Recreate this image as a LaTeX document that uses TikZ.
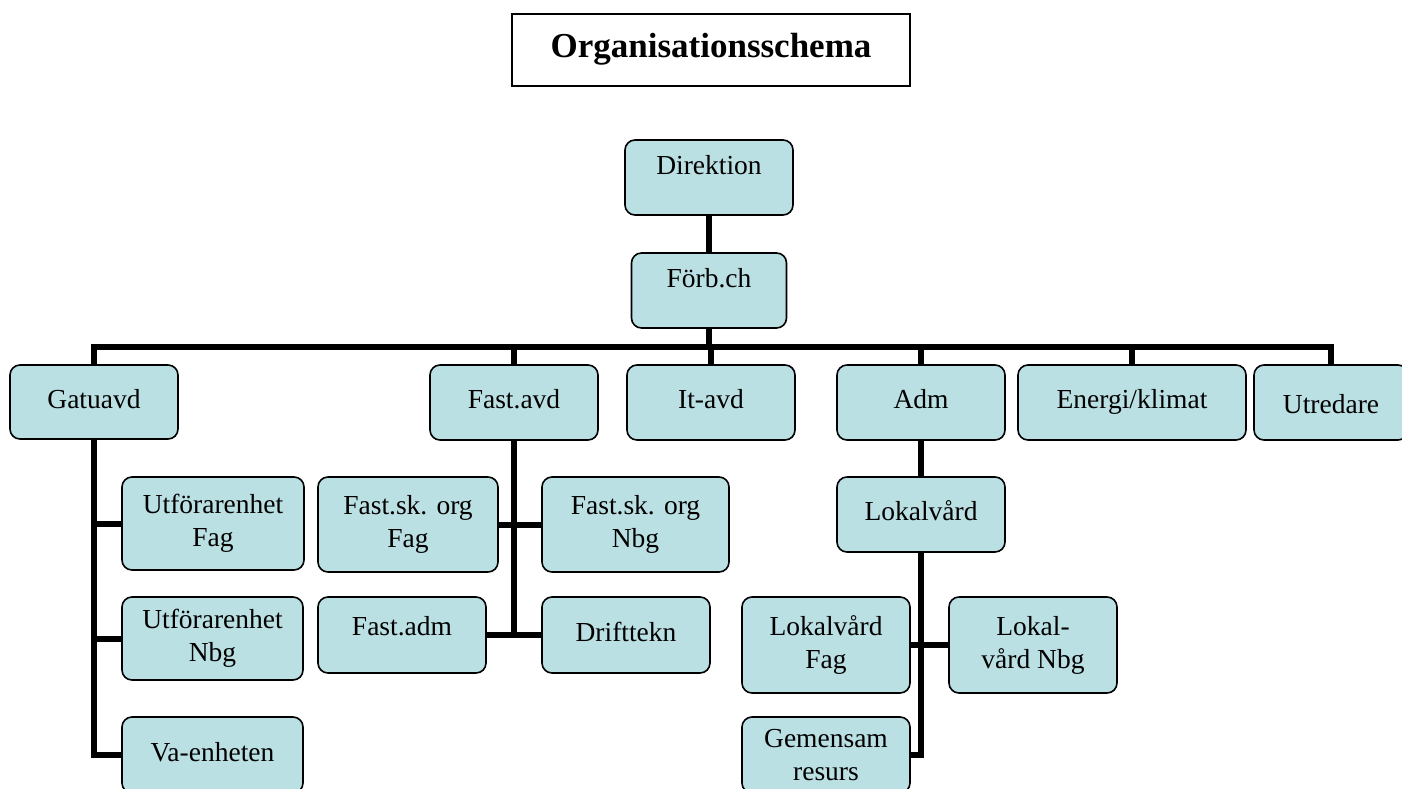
\documentclass[tikz,border=0pt]{standalone}
\usepackage{fontspec}
\setmainfont{Liberation Serif}
\usetikzlibrary{backgrounds}
\definecolor{boxfill}{RGB}{187,224,227}
\tikzset{
  box/.style={draw=black, line width=1.6pt, fill=boxfill, rounded corners=10pt,
    inner sep=2pt, font=\fontsize{27.5}{33}\selectfont, text height=18pt, text depth=6pt},
  hightext/.style={text height=10pt, text depth=17pt},
  twoline/.style={draw=black, line width=1.6pt, fill=boxfill, rounded corners=10pt,
    inner sep=2pt, font=\fontsize{27.5}{33}\selectfont, align=center},
  conn/.style={line width=6pt, line cap=rect, line join=miter, draw=black},
  titlebox/.style={draw=black, line width=2pt, fill=white, inner sep=0pt,
    font=\fontsize{35}{40}\selectfont\bfseries, text height=24pt, text depth=8pt}
}
\begin{document}
\begin{tikzpicture}[x=1pt,y=-1pt]
\useasboundingbox (0,0) rectangle (1402,789);
\node[titlebox, minimum width=398pt, minimum height=72pt] (title) at (711,50) {Organisationsschema};

\node[box, hightext, minimum width=168pt, minimum height=75pt] (dir) at (709,177.5) {Direktion};
\node[box, hightext, minimum width=155pt, minimum height=75pt] (forb) at (709,290.5) {Förb.ch};

\node[box, minimum width=168pt, minimum height=74pt] (gatu) at (94,402) {Gatuavd};
\node[box, minimum width=168pt, minimum height=75pt] (fastavd) at (514,402.5) {Fast.avd};
\node[box, minimum width=168pt, minimum height=75pt] (itavd) at (711,402.5) {It-avd};
\node[box, minimum width=168pt, minimum height=75pt] (adm) at (921,402.5) {Adm};
\node[box, minimum width=228pt, minimum height=75pt] (energi) at (1132,402.5) {Energi/klimat};
\node[box, text height=24pt, text depth=3pt, minimum width=154pt, minimum height=75pt] (utred) at (1331,402.5) {Utredare};

\node[twoline, minimum width=182pt, minimum height=93pt] (utfag) at (213,523.5) {Utförarenhet\\Fag};
\node[twoline, minimum width=181pt, minimum height=83pt] (utnbg) at (212.5,638.5) {Utförarenhet\\Nbg};
\node[box, minimum width=181pt, minimum height=76pt] (vaenh) at (212.5,755) {Va-enheten};

\node[twoline, minimum width=180pt, minimum height=95pt] (fsfag) at (408,524.5) {Fast.sk. org\\Fag};
\node[twoline, minimum width=187pt, minimum height=95pt] (fsnbg) at (635.5,524.5) {Fast.sk. org\\Nbg};
\node[box, text height=12pt, text depth=12pt, minimum width=168pt, minimum height=76pt] (fastadm) at (402,635) {Fast.adm};
\node[box, minimum width=168pt, minimum height=76pt] (drift) at (626,635) {Drifttekn};

\node[box, minimum width=168pt, minimum height=75pt] (lokal) at (921,514.5) {Lokalvård};
\node[twoline, minimum width=168pt, minimum height=96pt] (lfag) at (826,645) {\raisebox{-4pt}{Lokalvård}\\\raisebox{-4pt}{Fag}};
\node[twoline, minimum width=168pt, minimum height=96pt] (lnbg) at (1033,645) {Lokal-\\vård Nbg};
\node[twoline, minimum width=168pt, minimum height=76pt] (gemres) at (826,755) {\raisebox{-3pt}{Gemensam}\\\raisebox{-3pt}{resurs}};

\coordinate (bus) at (709,347);

\begin{pgfonlayer}{background}
\fill[white] (0,0) rectangle (1402,789);
\draw[conn] (dir.south) -- (forb.north);
\draw[conn] (forb.south) -- (bus);
\draw[conn] (gatu.north) |- (bus) -| (utred.north);
\draw[conn] (fastavd.north) -- (fastavd.north |- bus);
\draw[conn] (itavd.north) -- (itavd.north |- bus);
\draw[conn] (adm.north) -- (adm.north |- bus);
\draw[conn] (energi.north) -- (energi.north |- bus);

\draw[conn] (gatu.south) |- (vaenh.west);
\draw[conn] (utfag.west) -- (utfag.west -| gatu.south);
\draw[conn] (utnbg.west) -- (utnbg.west -| gatu.south);

\draw[conn] (fastavd.south) -- (fastavd.south |- fastadm.east);
\draw[conn] (fsfag.east) -- (fsnbg.west);
\draw[conn] (fastadm.east) -- (drift.west);

\draw[conn] (adm.south) -- (lokal.north);
\draw[conn] (lokal.south) |- (gemres.east);
\draw[conn] (lfag.east) -- (lnbg.west);
\end{pgfonlayer}
\end{tikzpicture}
\end{document}
